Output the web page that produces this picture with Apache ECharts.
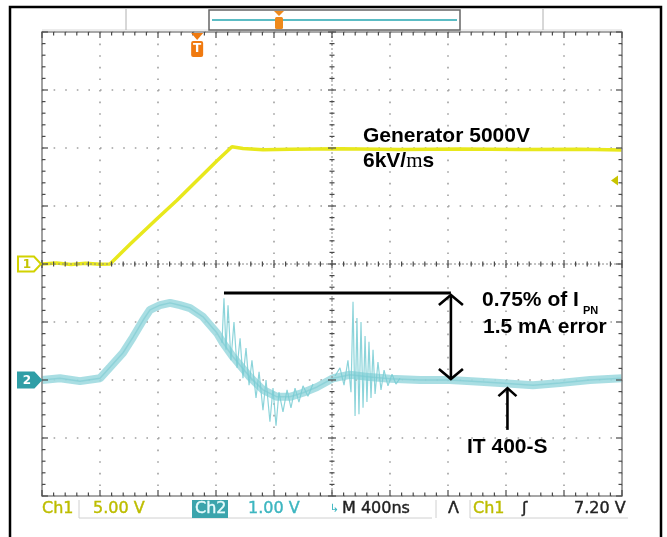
<!DOCTYPE html>
<html>
<head>
<meta charset="utf-8">
<script src="https://cdn.jsdelivr.net/npm/echarts@6/dist/echarts.min.js"></script>
<style>
  html, body { margin: 0; padding: 0; background: #fff; }
  #scope { width: 667px; height: 537px; }
</style>
</head>
<body>
<div id="scope"></div>
<script>
// Time in microseconds (400 ns / div), 0 = screen centre.
// Ch1: generator voltage seen through the probe, volts.
const ch1Time  = [-2.0, -1.9, -1.8, -1.7, -1.6, -1.531, -1.393, -1.207, -1.069, -0.931, -0.793, -0.69, -0.614, -0.476, -0.290, 0.055, 0.469, 0.883, 1.297, 1.710, 2.0];
const ch1Volts = [0.0, 0.08, -0.04, 0.06, -0.03, 0.0, 1.7, 3.9, 5.5, 7.2, 8.9, 10.1, 9.95, 9.85, 9.9, 9.93, 9.87, 9.92, 9.86, 9.9, 9.82];

// Ch2: IT 400-S output, volts (mean of the trace)
const ch2Time  = [-2.0, -1.876, -1.738, -1.6, -1.531, -1.441, -1.372, -1.303, -1.255, -1.186, -1.117, -1.048, -0.979, -0.890, -0.793, -0.752, -0.683, -0.566, -0.476, -0.379, -0.290, -0.200, -0.103, 0.007, 0.124, 0.262, 0.4, 0.607, 0.814, 1.021, 1.159, 1.386, 1.572, 1.779, 2.0];
const ch2Volts = [0.0, 0.03, -0.02, 0.03, 0.22, 0.47, 0.74, 1.03, 1.21, 1.29, 1.33, 1.29, 1.24, 1.09, 0.81, 0.64, 0.40, 0.05, -0.17, -0.29, -0.29, -0.22, -0.12, 0.03, 0.09, 0.05, 0.02, 0.0, 0.0, -0.03, -0.05, -0.09, -0.05, 0.0, 0.03];

// Ch2 ringing bursts at the ramp corner and after it
const burstATime  = [-0.759, -0.745, -0.731, -0.717, -0.697, -0.676, -0.655, -0.634, -0.614, -0.593, -0.572, -0.552, -0.524, -0.503, -0.476, -0.455, -0.428, -0.407, -0.386, -0.366, -0.338, -0.310, -0.283, -0.255, -0.228, -0.200, -0.166, -0.131];
const burstAVolts = [0.64, 1.41, 0.52, 1.29, 0.34, 1.00, 0.21, 0.72, 0.03, 0.55, -0.09, 0.34, -0.31, 0.14, -0.52, 0.0, -0.72, -0.14, -0.79, -0.21, -0.55, -0.17, -0.48, -0.14, -0.38, -0.10, -0.28, -0.07];
const burstBTime  = [0.021, 0.055, 0.083, 0.110, 0.131, 0.145, 0.159, 0.172, 0.186, 0.200, 0.214, 0.228, 0.241, 0.255, 0.269, 0.283, 0.297, 0.317, 0.338, 0.359, 0.386, 0.414, 0.441, 0.469];
const burstBVolts = [0.07, 0.21, -0.09, 0.34, -0.21, 1.35, -0.62, 1.07, -0.59, 1.00, -0.48, 0.76, -0.38, 0.66, -0.31, 0.52, -0.24, 0.31, -0.17, 0.17, -0.10, 0.10, -0.07, 0.03];

// Channel settings
const ch1VoltsPerDiv = 5.0;
const ch2VoltsPerDiv = 1.0;
const ch1Position = 0;    // divisions
const ch2Position = -2;   // divisions
const triggerLevel = 7.2; // V on Ch1
const triggerTime = -0.93;

// Error annotation: Ch2 peak level vs. settled level
const errorSpanTime = [-0.745, 0.82];
const errorLevels = [1.5, 0.0];
const sensorArrowTime = 1.21;
const sensorArrowVolts = [-0.86, -0.14];

const statusLabels = ['Ch1', '5.00 V', 'Ch2', '1.00 V', 'M 400ns', '\u039B', 'Ch1', '\u0283', '7.20 V'];

// Graticule: 10 x 8 divisions, 5 minor steps each
const timeMin = -2.0, timeMax = 2.0, timePerDiv = 0.4;
const divMin = -4, divMax = 4;
const minorSteps = 5;

function toDivs(times, volts, perDiv, pos) {
  return times.map((t, i) => [t, volts[i] / perDiv + pos]);
}

const chart = echarts.init(document.getElementById('scope'), null, { renderer: 'canvas' });

const dotted = { color: '#a0a0a0', width: 1.6, type: [1.6, 10.0] };

const traceBase = { type: 'line', xAxisIndex: 0, yAxisIndex: 0, showSymbol: false, silent: true, animation: false };

chart.setOption({
  animation: false,
  backgroundColor: '#ffffff',
  grid: { left: 42, top: 32, width: 580, height: 464, containLabel: false },
  xAxis: {
    type: 'value', min: timeMin, max: timeMax, interval: timePerDiv,
    axisLine: { show: false }, axisTick: { show: false }, axisLabel: { show: false },
    splitLine: { show: true, lineStyle: dotted }
  },
  yAxis: {
    type: 'value', min: divMin, max: divMax, interval: 1,
    axisLine: { show: false }, axisTick: { show: false }, axisLabel: { show: false },
    splitLine: { show: true, lineStyle: dotted }
  },
  series: [
    Object.assign({}, traceBase, {
      name: 'Ch2 band', z: 3,
      data: toDivs(ch2Time, ch2Volts, ch2VoltsPerDiv, ch2Position),
      lineStyle: { color: 'rgba(160,218,224,0.9)', width: 8 }
    }),
    Object.assign({}, traceBase, {
      name: 'Ch2', z: 4,
      data: toDivs(ch2Time, ch2Volts, ch2VoltsPerDiv, ch2Position),
      lineStyle: { color: 'rgba(120,200,208,0.55)', width: 1.5 }
    }),
    Object.assign({}, traceBase, {
      name: 'Ch2 burst A', z: 4,
      data: toDivs(burstATime, burstAVolts, ch2VoltsPerDiv, ch2Position),
      lineStyle: { color: 'rgba(120,205,212,0.85)', width: 1.2 }
    }),
    Object.assign({}, traceBase, {
      name: 'Ch2 burst B', z: 4,
      data: toDivs(burstBTime, burstBVolts, ch2VoltsPerDiv, ch2Position),
      lineStyle: { color: 'rgba(120,205,212,0.85)', width: 1.2 }
    }),
    Object.assign({}, traceBase, {
      name: 'Ch1', z: 5,
      data: toDivs(ch1Time, ch1Volts, ch1VoltsPerDiv, ch1Position),
      lineStyle: { color: '#e8e81c', width: 3.5 }
    })
  ]
});

// Screen furniture and annotations, placed through the axes
function px(t, div) { return chart.convertToPixel({ gridIndex: 0 }, [t, div]); }
function ch2Px(t, v) { return px(t, v / ch2VoltsPerDiv + ch2Position); }

const g = [];
const boldFont = 'bold 21px "Liberation Sans", Arial, sans-serif';

// graticule border, centre lines and ruler ticks
const tl = px(timeMin, divMax), br = px(timeMax, divMin), ctr = px(0, 0);
const L = tl[0], T = tl[1], R = br[0], B = br[1], CX = ctr[0], CY = ctr[1];
g.push({ type: 'rect', silent: true, z: 20, shape: { x: L, y: T, width: R - L, height: B - T }, style: { fill: 'none', stroke: '#8a8a8a', lineWidth: 1.6 } });
g.push({ type: 'line', silent: true, z: 20, shape: { x1: L, y1: CY, x2: R, y2: CY }, style: { stroke: '#8a8a8a', lineWidth: 1, lineDash: [2, 2] } });
g.push({ type: 'line', silent: true, z: 20, shape: { x1: CX, y1: T, x2: CX, y2: B }, style: { stroke: '#8a8a8a', lineWidth: 1, lineDash: [2, 2] } });
const tickStyle = { stroke: '#4a4a4a', lineWidth: 1.2 };
const nX = Math.round((timeMax - timeMin) / timePerDiv) * minorSteps;
for (let i = 0; i <= nX; i++) {
  const x = px(timeMin + i * timePerDiv / minorSteps, 0)[0];
  const major = i % minorSteps === 0;
  const len = major ? 6 : 3.5, half = major ? 4 : 2.5;
  g.push({ type: 'line', silent: true, z: 21, shape: { x1: x, y1: T, x2: x, y2: T + len }, style: tickStyle });
  g.push({ type: 'line', silent: true, z: 21, shape: { x1: x, y1: B, x2: x, y2: B - len }, style: tickStyle });
  g.push({ type: 'line', silent: true, z: 21, shape: { x1: x, y1: CY - half, x2: x, y2: CY + half }, style: tickStyle });
}
const nY = (divMax - divMin) * minorSteps;
for (let j = 0; j <= nY; j++) {
  const y = px(0, divMin + j / minorSteps)[1];
  const major = j % minorSteps === 0;
  const len = major ? 6 : 3.5, half = major ? 4 : 2.5;
  g.push({ type: 'line', silent: true, z: 21, shape: { x1: L, y1: y, x2: L + len, y2: y }, style: tickStyle });
  g.push({ type: 'line', silent: true, z: 21, shape: { x1: R, y1: y, x2: R - len, y2: y }, style: tickStyle });
  g.push({ type: 'line', silent: true, z: 21, shape: { x1: CX - half, y1: y, x2: CX + half, y2: y }, style: tickStyle });
}

// outer frame
g.push({ type: 'rect', silent: true, z: 100, shape: { x: 10, y: 7, width: 651, height: 560 }, style: { fill: 'none', stroke: '#000', lineWidth: 2.5 } });

// record overview bar
g.push({ type: 'line', silent: true, shape: { x1: 42, y1: 30, x2: 622, y2: 30 }, style: { stroke: '#d8d8d8', lineWidth: 1 } });
g.push({ type: 'line', silent: true, shape: { x1: 126, y1: 9, x2: 126, y2: 30 }, style: { stroke: '#b0b0b0', lineWidth: 1 } });
g.push({ type: 'line', silent: true, shape: { x1: 543, y1: 9, x2: 543, y2: 30 }, style: { stroke: '#b0b0b0', lineWidth: 1 } });
g.push({ type: 'rect', silent: true, shape: { x: 209, y: 10, width: 251, height: 20 }, style: { fill: '#fff', stroke: '#666', lineWidth: 1.5 } });
g.push({ type: 'line', silent: true, shape: { x1: 212, y1: 20, x2: 457, y2: 20 }, style: { stroke: '#5bbcc4', lineWidth: 2 } });
g.push({ type: 'polygon', silent: true, shape: { points: [[274, 11], [284, 11], [279, 16]] }, style: { fill: '#ee8a1c' } });
g.push({ type: 'rect', silent: true, shape: { x: 275, y: 17, width: 8, height: 12, r: 1.5 }, style: { fill: '#ee8a1c' } });

// trigger position marker
const trg = px(triggerTime, 0);
g.push({ type: 'polygon', silent: true, z: 50, shape: { points: [[trg[0] - 6, T + 1], [trg[0] + 6, T + 1], [trg[0], T + 8]] }, style: { fill: '#f07a10' } });
g.push({ type: 'rect', silent: true, z: 50, shape: { x: trg[0] - 6, y: T + 9, width: 12, height: 16, r: 2 }, style: { fill: '#f07a10' } });
g.push({ type: 'text', silent: true, z: 51, style: { text: 'T', x: trg[0], y: T + 17, align: 'center', verticalAlign: 'middle', font: 'bold 12px "DejaVu Sans", sans-serif', fill: '#fff' } });

// trigger level marker (Ch1)
const lvl = px(timeMax, triggerLevel / ch1VoltsPerDiv + ch1Position);
g.push({ type: 'polygon', silent: true, z: 50, shape: { points: [[lvl[0] - 11, lvl[1]], [lvl[0] - 4, lvl[1] - 5], [lvl[0] - 4, lvl[1] + 5]] }, style: { fill: '#c8c400' } });

// channel ground markers
function chanMarker(div, fill, stroke, txtColor, label) {
  const p = px(timeMin, div);
  const x0 = 18, x1 = 34, tip = 41, h = 7.5;
  g.push({ type: 'polygon', silent: true, z: 50, shape: { points: [[x0, p[1] - h], [x1, p[1] - h], [tip, p[1]], [x1, p[1] + h], [x0, p[1] + h]] }, style: { fill: fill, stroke: stroke, lineWidth: 2 } });
  g.push({ type: 'text', silent: true, z: 51, style: { text: label, x: 27, y: p[1] + 0.5, align: 'center', verticalAlign: 'middle', font: 'bold 12px "DejaVu Sans", sans-serif', fill: txtColor } });
}
chanMarker(ch1Position, '#ffffff', '#d2d200', '#c4c400', '1');
chanMarker(ch2Position, '#2f9ea6', '#2f9ea6', '#ffffff', '2');

// error span: reference line and double arrow
const eA = ch2Px(errorSpanTime[0], errorLevels[0]);
const eB = ch2Px(errorSpanTime[1], errorLevels[0]);
const eC = ch2Px(errorSpanTime[1], errorLevels[1]);
const ink = { stroke: '#000', lineWidth: 2.6, fill: 'none', lineJoin: 'miter', lineCap: 'butt' };
g.push({ type: 'line', silent: true, z: 60, shape: { x1: eA[0], y1: eA[1], x2: eB[0], y2: eB[1] }, style: Object.assign({}, ink, { lineWidth: 2.8 }) });
g.push({ type: 'line', silent: true, z: 60, shape: { x1: eB[0], y1: eB[1] + 2, x2: eC[0], y2: eC[1] - 1 }, style: ink });
g.push({ type: 'polyline', silent: true, z: 60, shape: { points: [[eB[0] - 12, eB[1] + 12], [eB[0], eB[1] + 2], [eB[0] + 12, eB[1] + 12]] }, style: ink });
g.push({ type: 'polyline', silent: true, z: 60, shape: { points: [[eC[0] - 12, eC[1] - 11], [eC[0], eC[1] - 1], [eC[0] + 12, eC[1] - 11]] }, style: ink });

// sensor label arrow
const sA = ch2Px(sensorArrowTime, sensorArrowVolts[0]);
const sB = ch2Px(sensorArrowTime, sensorArrowVolts[1]);
g.push({ type: 'line', silent: true, z: 60, shape: { x1: sA[0], y1: sA[1], x2: sB[0], y2: sB[1] }, style: ink });
g.push({ type: 'polyline', silent: true, z: 60, shape: { points: [[sB[0] - 9, sB[1] + 8], [sB[0], sB[1]], [sB[0] + 9, sB[1] + 8]] }, style: ink });

// annotation text
g.push({ type: 'text', silent: true, z: 70, style: { text: 'Generator 5000V', x: 363, y: 136, verticalAlign: 'middle', font: boldFont, fill: '#000' } });
g.push({ type: 'text', silent: true, z: 70, style: {
  text: '6kV/{m|m}s', x: 363, y: 161, verticalAlign: 'middle', font: boldFont, fill: '#000',
  rich: { m: { font: '21px "Liberation Serif", "Times New Roman", serif', fill: '#000' } }
} });
g.push({ type: 'text', silent: true, z: 70, style: { text: '0.75% of I', x: 482, y: 300, verticalAlign: 'middle', font: boldFont, fill: '#000' } });
g.push({ type: 'text', silent: true, z: 70, style: { text: 'PN', x: 583, y: 311, verticalAlign: 'middle', font: 'bold 11px "Liberation Sans", Arial, sans-serif', fill: '#000' } });
g.push({ type: 'text', silent: true, z: 70, style: { text: '1.5 mA error', x: 483, y: 327, verticalAlign: 'middle', font: boldFont, fill: '#000' } });
g.push({ type: 'text', silent: true, z: 70, style: { text: 'IT 400-S', x: 467, y: 447, verticalAlign: 'middle', font: boldFont, fill: '#000' } });

// status line
const sFont = '16px "DejaVu Sans", sans-serif';
const sy = 509;
g.push({ type: 'polyline', silent: true, shape: { points: [[79, 500], [79, 518], [432, 518]] }, style: { stroke: '#d0d0d0', lineWidth: 1, fill: 'none' } });
g.push({ type: 'polyline', silent: true, shape: { points: [[436, 500], [436, 518]] }, style: { stroke: '#d0d0d0', lineWidth: 1 } });
g.push({ type: 'polyline', silent: true, shape: { points: [[470, 500], [470, 518], [628, 518]] }, style: { stroke: '#d0d0d0', lineWidth: 1, fill: 'none' } });
g.push({ type: 'rect', silent: true, shape: { x: 192, y: 500, width: 36, height: 18 }, style: { fill: '#3ba4ac' } });
const statusItems = [
  [statusLabels[0], 42, '#bdbd00'],
  [statusLabels[1], 93, '#bdbd00'],
  [statusLabels[2], 195, '#e6fbfc'],
  [statusLabels[3], 248, '#3db6c0'],
  [statusLabels[4], 342, '#222'],
  [statusLabels[5], 448, '#222'],
  [statusLabels[6], 473, '#bdbd00'],
  [statusLabels[7], 522, '#222'],
  [statusLabels[8], 574, '#222']
];
statusItems.forEach(([txt, x, col]) => {
  g.push({ type: 'text', silent: true, z: 70, style: { text: txt, x: x, y: sy, verticalAlign: 'middle', font: sFont, fill: col, stroke: col, lineWidth: 0.4 } });
});
g.push({ type: 'text', silent: true, z: 70, style: { text: '\u21B3', x: 330, y: sy, verticalAlign: 'middle', font: '11px "DejaVu Sans", sans-serif', fill: '#3db6c0' } });

chart.setOption({ graphic: { elements: g } });
</script>
</body>
</html>
